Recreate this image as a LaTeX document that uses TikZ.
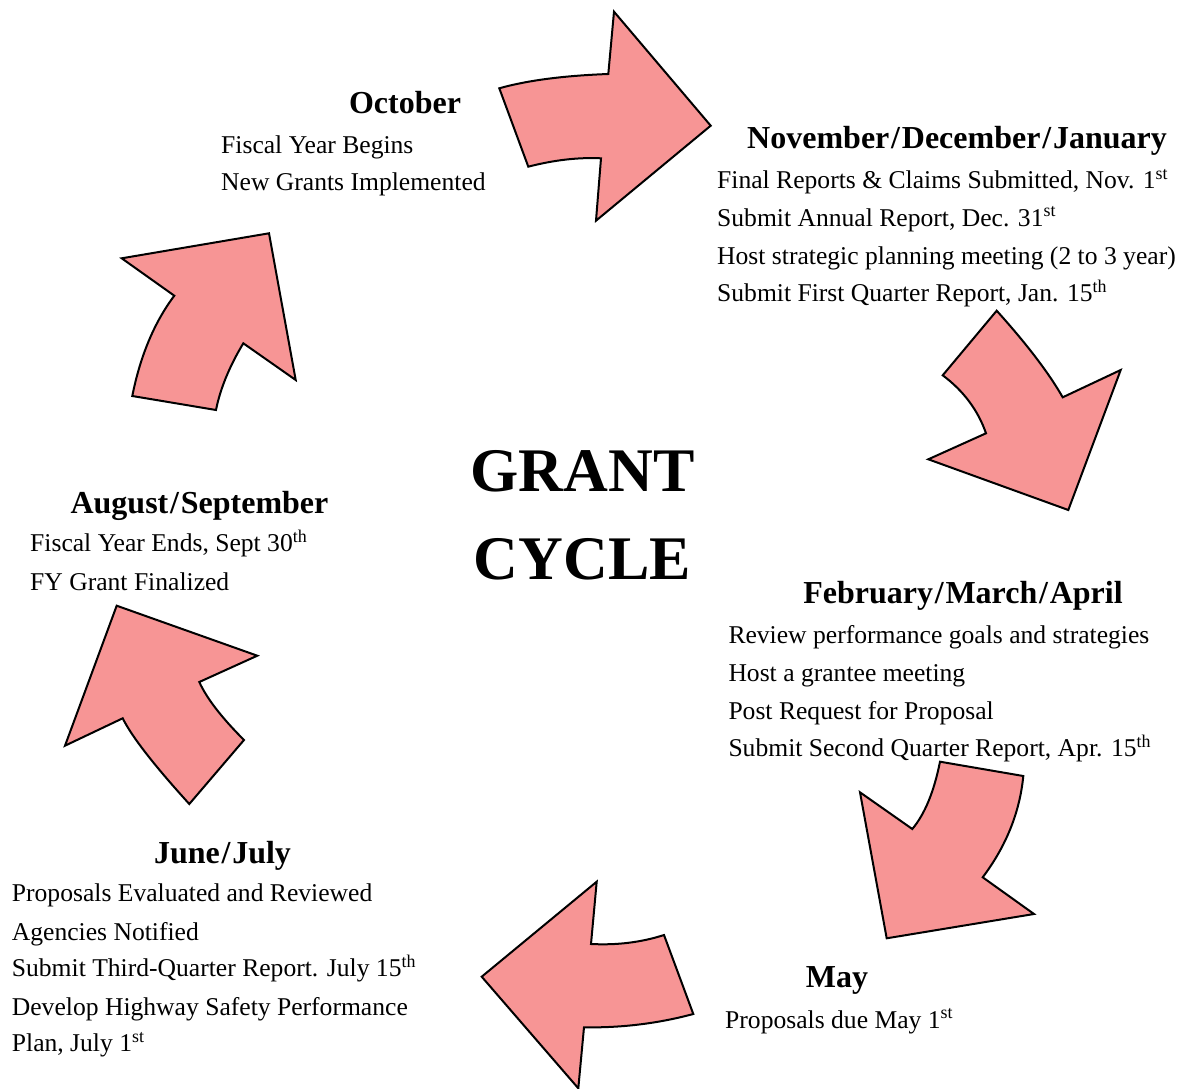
\documentclass[tikz,border=0pt]{standalone}
\usepackage{fontspec}
\setmainfont{Liberation Serif}
\usetikzlibrary{calc}
\definecolor{arrowpink}{RGB}{247,149,149}
\newcommand{\msl}{\kern1.8pt/\kern1.8pt}
\tikzset{
  cyclearrow/.style={fill=arrowpink, draw=black, line width=2pt, line join=miter},
  qto/.style={to path={.. controls ($(\tikztostart)!0.6667!#1$) and ($(\tikztotarget)!0.6667!#1$) .. (\tikztotarget)}},
  bodytext/.style={anchor=base west, inner sep=0pt, font=\fontsize{25.6}{30}\selectfont},
  headtext/.style={anchor=base, inner sep=0pt, font=\fontsize{32}{36}\selectfont\bfseries},
  bigtext/.style={anchor=base, inner sep=0pt, font=\fontsize{62}{70}\selectfont\bfseries}
}
\begin{document}
\begin{tikzpicture}[x=1pt,y=-1pt]
\useasboundingbox (0,0) rectangle (1179,1089);
% arrows
\path[cyclearrow] (499.3,88.3) to[qto={(541,76.5)}] (608.3,74) -- (614,11.7) -- (710.7,125.7) -- (596,220.7) -- (601,158.3) to[qto={(566.7,156.7)}] (528.3,166.7) -- cycle;
\path[cyclearrow] (996.7,310.7) to[qto={(1042,361)}] (1062.7,397.3) -- (1120.7,370) -- (1068.3,510) -- (928.3,459.3) -- (986,433.3) to[qto={(974,398.7)}] (942.7,375.3) -- cycle;
\path[cyclearrow] (912.3,829) to[qto={(931,806.7)}] (940,761.7) -- (1023.3,776) to[qto={(1018,830.3)}] (982.7,877.3) -- (1034,914) -- (886.7,938.3) -- (860,792.3) -- cycle;
\path[cyclearrow] (481.7,976.7) -- (596.7,881.7) -- (591,944) to[qto={(630,946)}] (664,935) -- (693.3,1014) to[qto={(640,1028.3)}] (584,1027.3) -- (578.3,1088.3) -- cycle;
\path[cyclearrow] (116.7,605.7) -- (257.3,655.7) -- (199.3,682) to[qto={(210.3,706.3)}] (244,740) -- (189.3,804) to[qto={(136.3,745.7)}] (122.7,718.3) -- (65,745.7) -- cycle;
\path[cyclearrow] (121.7,258.3) -- (269,233.3) -- (295.7,380) -- (243.3,343.3) to[qto={(222.3,378.3)}] (216,410) -- (132.3,396) to[qto={(144.3,335.7)}] (174.3,295.7) -- cycle;
% centre
\node[bigtext] (grant) at (582.5,491.7) {GRANT};
\node[bigtext] (cycle) at (582.5,579) {CYCLE};
% October
\node[headtext] (oct) at (405,113.3) {October};
\node[bodytext] (oct1) at (221,154) {Fiscal Year Begins};
\node[bodytext] (oct2) at (221,191) {New Grants Implemented};
% Nov/Dec/Jan
\node[headtext] (ndj) at (957,148.3) {November\msl December\msl January};
\node[bodytext] (ndj1) at (717,188.3) {Final Reports \& Claims Submitted, Nov. 1\textsuperscript{st}};
\node[bodytext] (ndj2) at (717,226) {Submit Annual Report, Dec. 31\textsuperscript{st}};
\node[bodytext] (ndj3) at (717,264) {Host strategic planning meeting (2 to 3 year)};
\node[bodytext] (ndj4) at (717,301.7) {Submit First Quarter Report, Jan. 15\textsuperscript{th}};
% Feb/Mar/Apr
\node[headtext] (fma) at (963,603.3) {February\msl March\msl April};
\node[bodytext] (fma1) at (728.3,643.3) {Review performance goals and strategies};
\node[bodytext] (fma2) at (728.3,681) {Host a grantee meeting};
\node[bodytext] (fma3) at (728.3,719) {Post Request for Proposal};
\node[bodytext] (fma4) at (728.3,756.7) {Submit Second Quarter Report, Apr. 15\textsuperscript{th}};
% May
\node[headtext] (may) at (837,987) {May};
\node[bodytext] (may1) at (725,1028) {Proposals due May 1\textsuperscript{st}};
% June/July
\node[headtext] (jj) at (222.5,863.3) {June\msl July};
\node[bodytext] (jj1) at (11.7,901.7) {Proposals Evaluated and Reviewed};
\node[bodytext] (jj2) at (11.7,940) {Agencies Notified};
\node[bodytext] (jj3) at (11.7,976.7) {Submit Third-Quarter Report. July 15\textsuperscript{th}};
\node[bodytext] (jj4) at (11.7,1015) {Develop Highway Safety Performance};
\node[bodytext] (jj5) at (11.7,1051.7) {Plan, July 1\textsuperscript{st}};
% Aug/Sep
\node[headtext] (as) at (199.5,513.3) {August\msl September};
\node[bodytext] (as1) at (30,551.7) {Fiscal Year Ends, Sept 30\textsuperscript{th}};
\node[bodytext] (as2) at (30,590) {FY Grant Finalized};
\end{tikzpicture}
\end{document}
